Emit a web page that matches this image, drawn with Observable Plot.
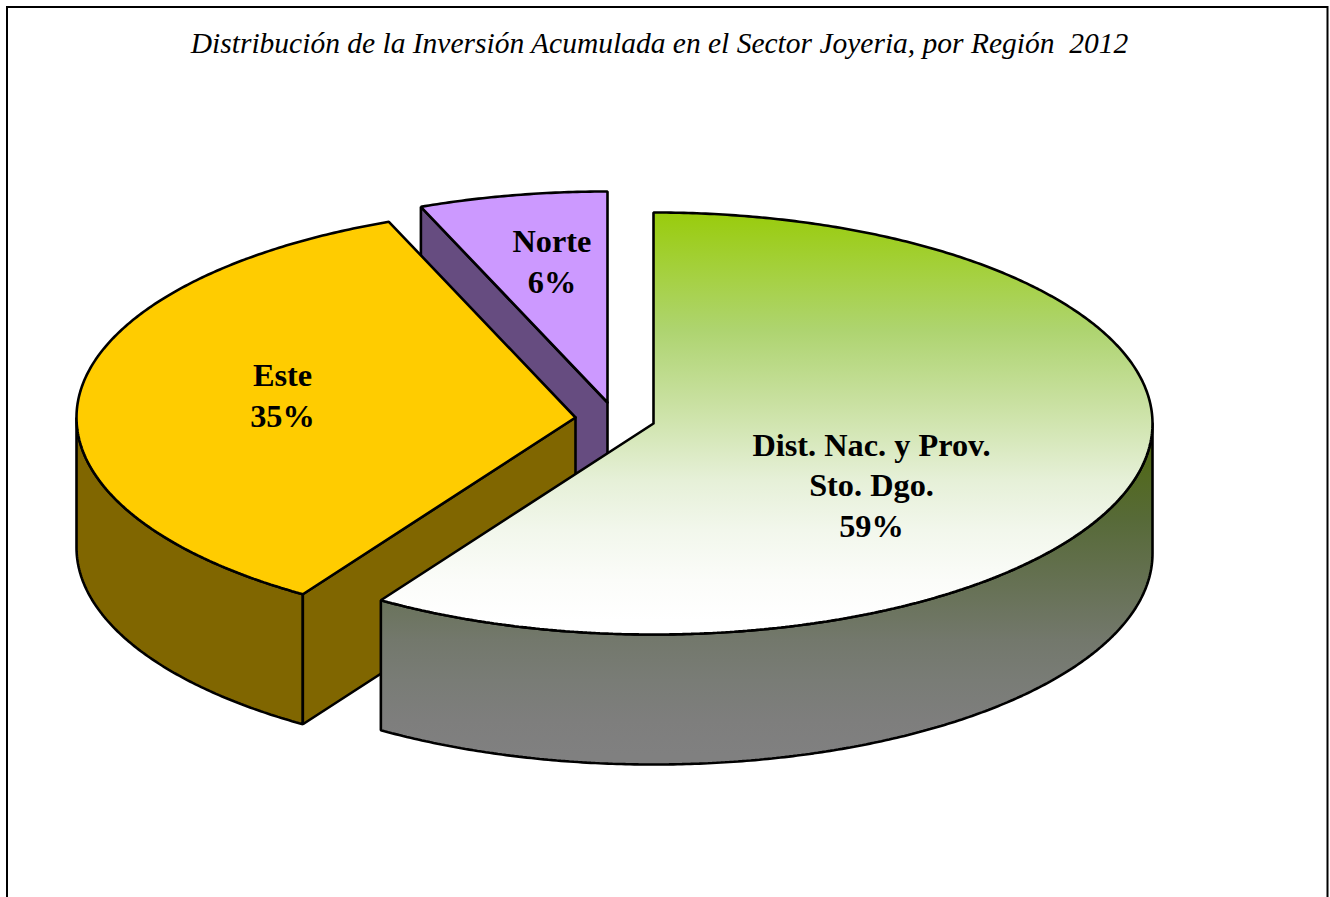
<!DOCTYPE html>
<html lang="es">
<head>
<meta charset="utf-8">
<title>Distribución de la Inversión Acumulada</title>
<style>
html,body{margin:0;padding:0;background:#fff;overflow:hidden}
svg{display:block}
</style>
<script src="https://cdn.jsdelivr.net/npm/d3@7"></script>
<script src="https://cdn.jsdelivr.net/npm/@observablehq/plot@0.6"></script>
</head>
<body>
<div id="chart"></div>
<script>
// Data
const titleText = "Distribución de la Inversión Acumulada en el Sector Joyeria, por Región \u00a02012";
const regions = ["Dist. Nac. y Prov.\nSto. Dgo.", "Este", "Norte"];
const shares = [59.2, 34.7, 6.1];

// Layout and style
const W = 1330, H = 897;
const rx = 499, ry = 211, depth = 130;
const apexes = [{x: 653, y: 423}, {x: 575, y: 417}, {x: 607, y: 402}];
const labelAt = [{x: 871, y: 483}, {x: 282, y: 393}, {x: 551.5, y: 259}];
const topFills = ["url(#greenTop)", "#ffcc00", "#cc99ff"];
const sideFills = ["url(#greenSide)", "#806600", "#664c80"];
const gradientStops = [
  [0, "#99cc0c"], [0.16, "#a6d145"], [0.28, "#aed470"], [0.445, "#c8e09f"],
  [0.635, "#e6f0d8"], [0.754, "#f2f7ec"], [0.872, "#fbfcf9"], [0.967, "#ffffff"], [1, "#ffffff"]
];
const line = {stroke: "#000", strokeWidth: 2.6, strokeLinejoin: "miter"};

// Slice angles from the values, clockwise from 12 o'clock
const arcs = d3.pie().sort(null).startAngle(0).endAngle(2 * Math.PI)(shares);
const deg = Math.PI / 180;
const rim = (i, t, drop = 0) => ({
  x: apexes[i].x + rx * Math.sin(t),
  y: apexes[i].y - ry * Math.cos(t) + drop
});
const sweep = (i, a, b, drop = 0) => {
  const n = Math.ceil(Math.abs(b - a) / (0.5 * deg));
  return d3.range(n + 1).map(k => rim(i, a + (b - a) * k / n, drop));
};
const apex = (i, drop = 0) => ({x: apexes[i].x, y: apexes[i].y + drop});
const closed = pts => [...pts, pts[0]];

const topFace = i => closed([apex(i), ...sweep(i, arcs[i].startAngle, arcs[i].endAngle)]);
const outerSide = (i, a, b) => closed([...sweep(i, a, b), ...sweep(i, b, a, depth)]);
const cutFace = (i, t) => closed([apex(i), rim(i, t), rim(i, t, depth), apex(i, depth)]);

const face = (pts, fill) => Plot.line(pts, {x: "x", y: "y", fill, ...line});

const defsMark = () => {
  const g = d3.create("svg:defs");
  const grad = (id, colorOf) => {
    const l = g.append("linearGradient").attr("id", id).attr("x1", 0).attr("y1", 0).attr("x2", 0).attr("y2", 1);
    for (const [o, c] of gradientStops) l.append("stop").attr("offset", o).attr("stop-color", colorOf(c));
  };
  grad("greenTop", c => c);
  grad("greenSide", c => { const r = d3.rgb(c); return d3.rgb(r.r / 2, r.g / 2, r.b / 2).formatHex(); });
  return g.node();
};

const labels = regions.map((r, i) => ({text: `${r}\n${Math.round(shares[i])}%`, ...labelAt[i]}));
const serif = "'Liberation Serif','Times New Roman',serif";

const chart = Plot.plot({
  width: W, height: H,
  margin: 0,
  x: {domain: [0, W], range: [0, W], axis: null},
  y: {domain: [0, H], range: [0, H], axis: null},
  marks: [
    defsMark,
    // Chart-area frame (bottom edge falls outside the picture)
    Plot.ruleY([6.5], {x1: 6, x2: 1327.5, stroke: "#000", strokeWidth: 2}),
    Plot.ruleX([6.5, 1327], {y1: 6, y2: H, stroke: "#000", strokeWidth: 2}),
    Plot.text([titleText], {
      x: () => 659, y: () => 43, text: d => d,
      fontFamily: serif, fontStyle: "italic", fontSize: 29.5, fill: "#000"
    }),
    // Norte
    face(cutFace(2, arcs[2].startAngle), sideFills[2]),
    face(topFace(2), topFills[2]),
    // Este
    face(outerSide(1, arcs[1].startAngle, 270 * deg), sideFills[1]),
    face(cutFace(1, arcs[1].startAngle), sideFills[1]),
    face(topFace(1), topFills[1]),
    // Dist. Nac.
    face(outerSide(0, 90 * deg, arcs[0].endAngle), sideFills[0]),
    face(topFace(0), topFills[0]),
    // Labels
    Plot.text(labels, {
      x: "x", y: "y", text: "text", lineHeight: 1.25,
      fontFamily: serif, fontWeight: "bold", fontSize: 32.3, fill: "#000"
    })
  ]
});
document.getElementById("chart").append(chart);
</script>
</body>
</html>
